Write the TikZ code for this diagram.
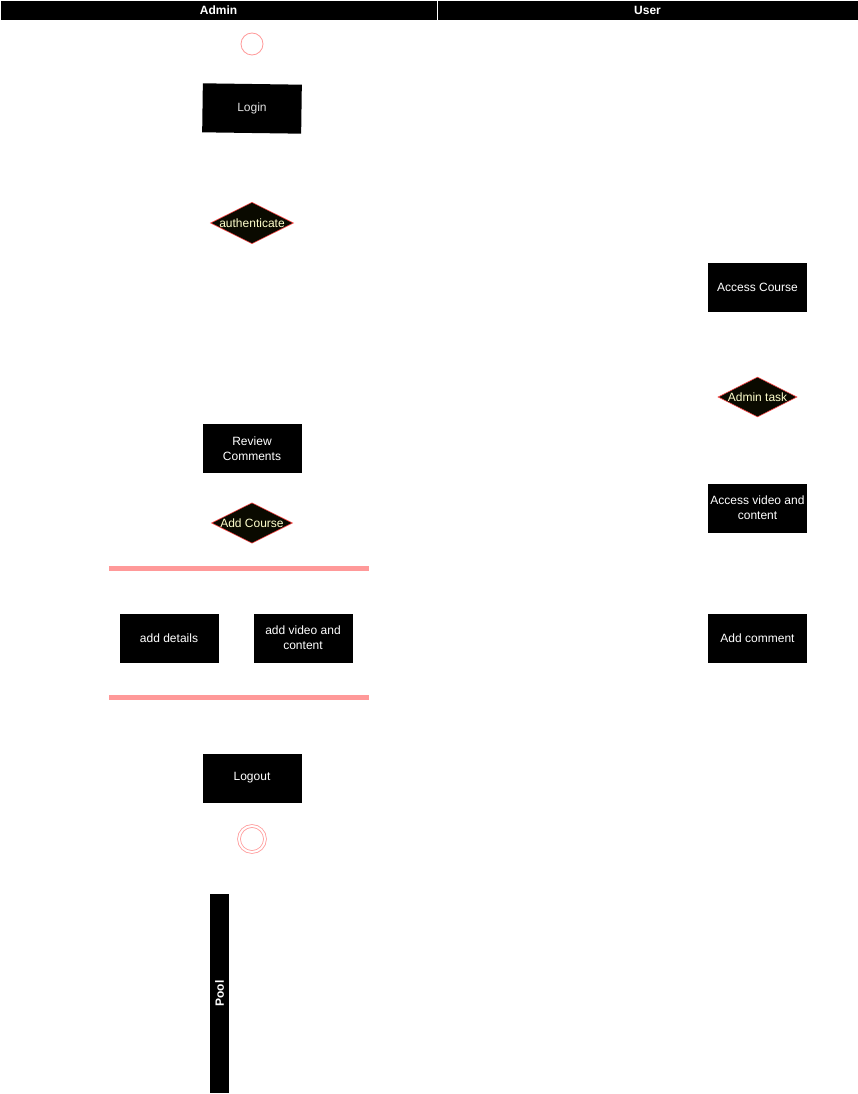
\documentclass[tikz,border=0pt]{standalone}
\usepackage{fontspec}
\setmainfont{Liberation Sans}
\usepackage{tikz}
\usetikzlibrary{shapes.geometric, positioning}
\definecolor{swimred}{HTML}{FF9999}
\definecolor{labelgray}{HTML}{E0E0E0}
\definecolor{choiceyellow}{HTML}{FFFFCC}
\definecolor{choicefill}{HTML}{0A0A00}
\begin{document}
\begin{tikzpicture}[x=1pt, y=-1pt,
  lanehead/.style={rectangle, fill=black, draw=white, line width=0.8pt, minimum width=437pt, minimum height=20pt, inner sep=0pt, text=white, font=\fontsize{12}{14}\selectfont\bfseries},
  activity/.style={rectangle, fill=black, minimum width=99pt, minimum height=49pt, inner sep=2pt, text=white, font=\fontsize{12}{15}\selectfont, align=center},
  choice/.style={diamond, fill=choicefill, draw=red!70, line width=0.6pt, minimum width=79pt, minimum height=40pt, inner sep=0pt, aspect=2, text=choiceyellow, font=\fontsize{12}{14}\selectfont},
  syncbar/.style={rectangle, fill=swimred, minimum width=260pt, minimum height=5pt, inner sep=0pt},
  initial/.style={circle, draw=swimred, fill=white, line width=0.8pt, minimum size=22pt, inner sep=0pt},
  final/.style={circle, draw=swimred, fill=white, double=white, double distance=2pt, line width=0.8pt, minimum size=26pt, inner sep=0pt},
  pool/.style={rectangle, fill=black, minimum width=19pt, minimum height=199pt, inner sep=0pt},
]
\useasboundingbox[fill=white] (0,0) rectangle (858,1094);

%% Lane headers
\node[lanehead, minimum width=437pt] (admin) at (218.5,10) {Admin};
\node[lanehead, minimum width=421pt] (user)  at (647.5,10) {User};

%% Admin lane
\node[initial] (start) at (252,44) {};
\node[activity, rotate=-0.8, text=labelgray] (login) at (252,108.5) {Login};
\node[choice] (auth) at (252,223) {authenticate};
\node[activity] (review) at (252,448.5) {Review\\Comments};
\node[choice] (addcourse) at (252,523) {Add Course};
\node[syncbar] (fork) at (239,568.5) {};
\node[activity] (details) at (169,638) {add details};
\node[activity] (video) at (303,638) {add video and\\content};
\node[syncbar] (join) at (239,697.5) {};
\node[activity] (logout) at (252,778) {Logout};
\node[final] (stop) at (252,839) {};

%% User lane
\node[activity] (access) at (757.5,287) {Access Course};
\node[choice] (task) at (757.5,397) {Admin task};
\node[activity] (content) at (757.5,508) {Access video and\\content};
\node[activity] (comment) at (757.5,638) {Add comment};

%% Pool
\node[pool] (poolbar) at (219.5,993.5) {};
\node[rotate=90, text=white, font=\fontsize{12}{14}\selectfont\bfseries] at (poolbar.center) {Pool};
\end{tikzpicture}
\end{document}
